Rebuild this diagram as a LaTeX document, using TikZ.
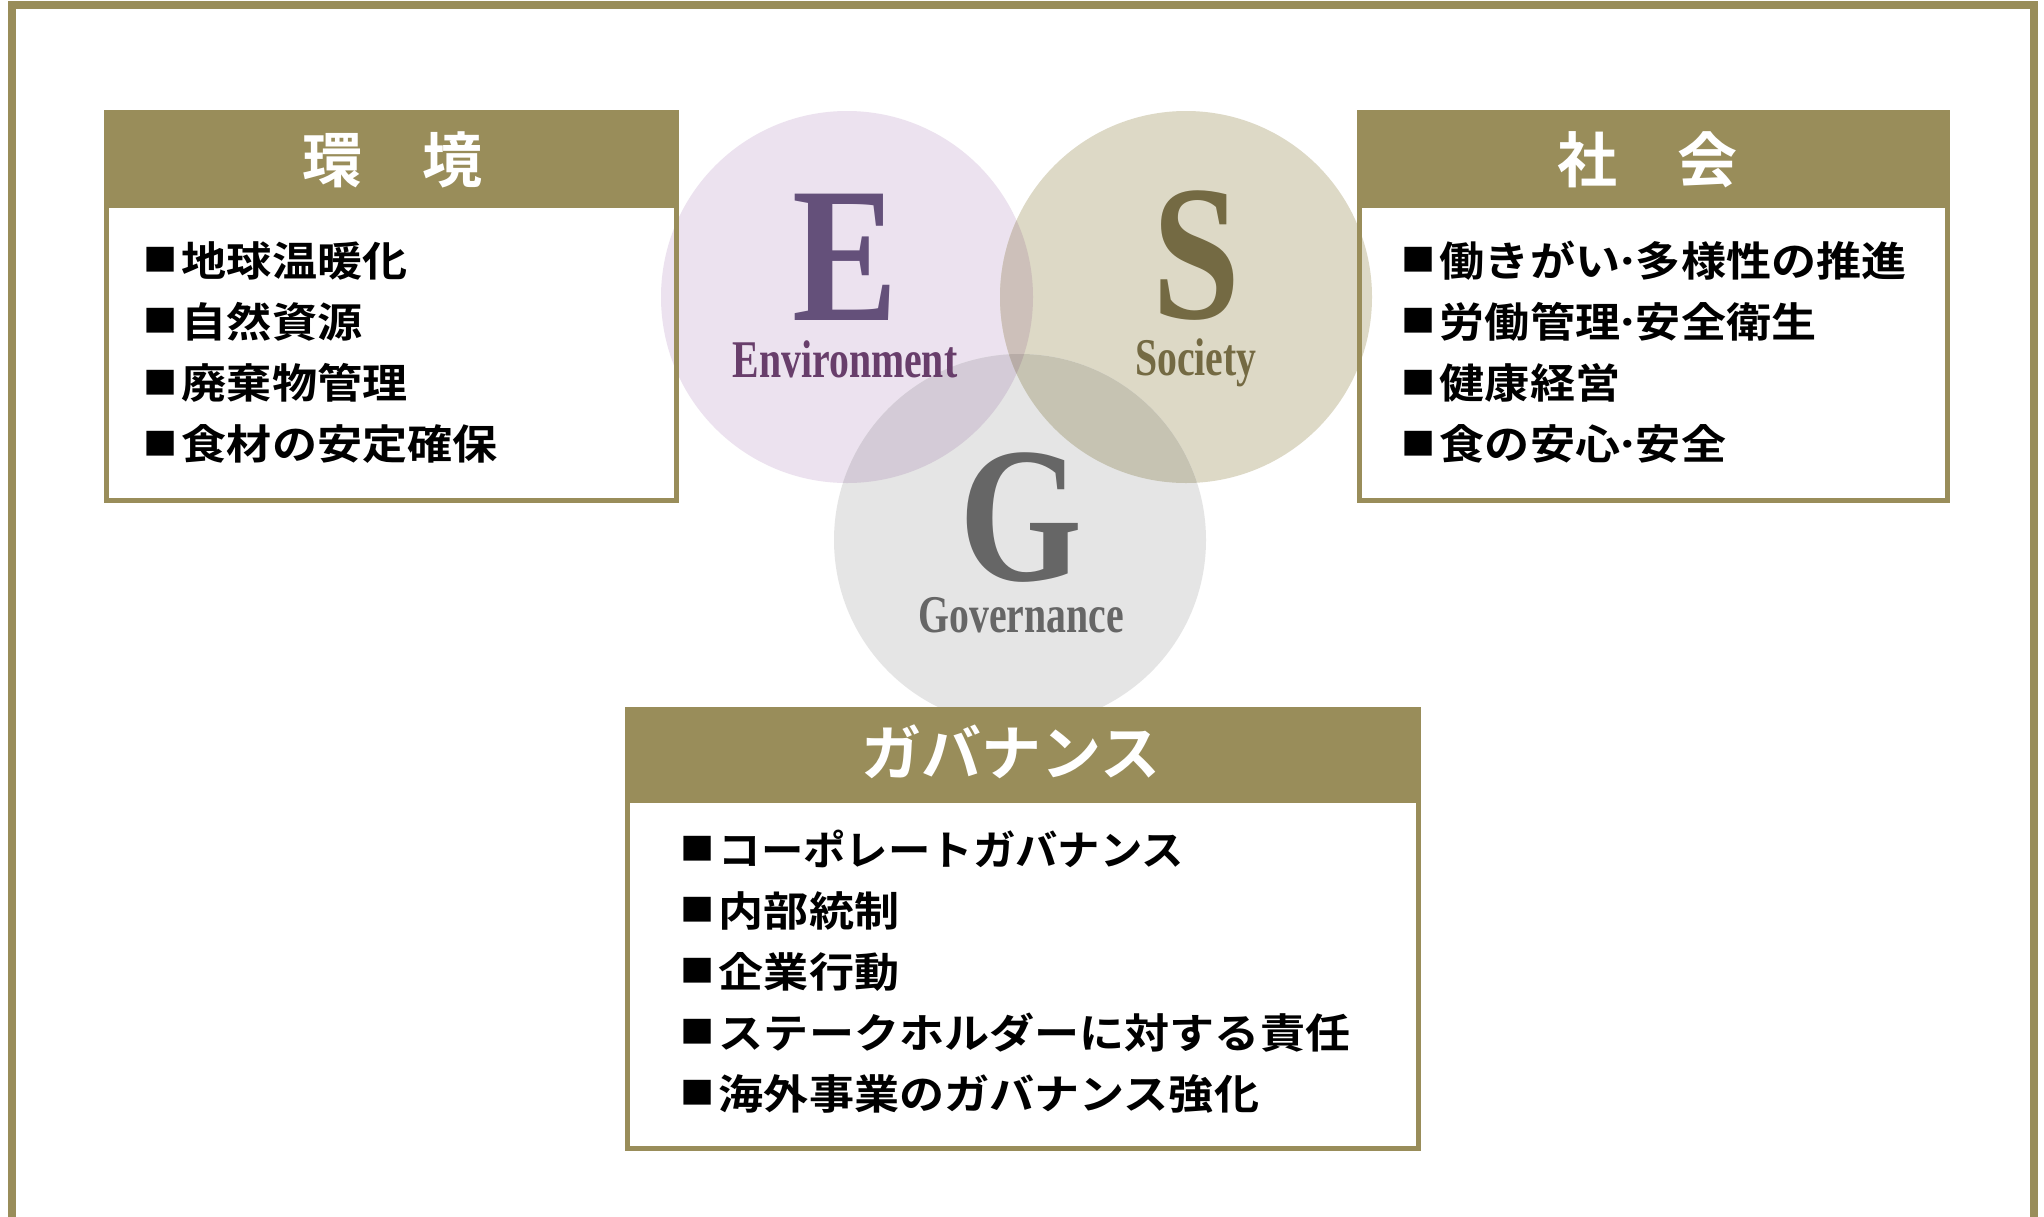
\documentclass[tikz,border=0pt]{standalone}
\usepackage{fontspec}
\newfontfamily\jpfont[FakeStretch=1.1]{Noto Sans CJK JP Bold}
\newfontfamily\jptitle{Noto Sans CJK JP Bold}
\newfontfamily\letterfont[FakeStretch=0.82]{Liberation Serif Bold}
\newfontfamily\wordfont[FakeStretch=0.75]{Liberation Serif Bold}
\newcommand\sqbullet{\raisebox{4.5pt}{\fontsize{31pt}{31pt}\selectfont ■}\kern4.5pt}
\newcommand\mdot{\kern-5.5pt·\kern-5.5pt}
% big letter over a word, #1 = distance between baselines
\newcommand\esglabel[5]{\vbox{\baselineskip=#1\lineskiplimit=-1000pt\lineskip=0pt
  \halign{\hfil##\hfil\cr
  {\color{#2}\letterfont\fontsize{193pt}{193pt}\selectfont #3}\cr
  {\color{#4}\wordfont\fontsize{53pt}{53pt}\selectfont #5}\cr}}}
\definecolor{gold}{RGB}{153,141,90}
\definecolor{Ecol}{RGB}{236,226,239}
\definecolor{Scol}{RGB}{221,217,198}
\definecolor{Gcol}{RGB}{229,229,229}
\definecolor{EScol}{RGB}{205,192,186}
\definecolor{EGcol}{RGB}{212,203,215}
\definecolor{SGcol}{RGB}{198,195,178}
\definecolor{ESGcol}{RGB}{184,172,167}
\definecolor{Eletter}{RGB}{100,80,122}
\definecolor{Eword}{RGB}{104,62,107}
\definecolor{Sletter}{RGB}{116,106,67}
\definecolor{Gletter}{RGB}{102,102,102}
\tikzset{
  frameline/.style={draw=gold, line width=8pt},
  boxbody/.style={rectangle, fill=white, inner sep=0pt, outer sep=0pt},
  boxborder/.style={rectangle, draw=gold, line width=5pt, inner sep=0pt, outer sep=0pt},
  headerbar/.style={rectangle, fill=gold, inner sep=0pt, outer sep=0pt},
  titletext/.style={text=white, inner sep=0pt, font=\jptitle\fontsize{60pt}{60pt}\selectfont},
  itemtext/.style={anchor=base west, inner sep=0pt, text=black, font=\jpfont\fontsize{41pt}{41pt}\selectfont},
  esgtext/.style={anchor=base, inner sep=0pt},
}
\begin{document}
\begin{tikzpicture}[x=1pt,y=-1pt]
\useasboundingbox (0,0) rectangle (2044,1216);
\fill[white] (0,0) rectangle (2044,1216);
% outer frame (open at the bottom)
\draw[frameline] (11.5,1260) -- (11.5,5) -- (2033.5,5) -- (2033.5,1260);

% box bodies
\node[boxbody, minimum width=575pt, minimum height=393pt] (envbody) at (391.5,306.5) {};
\node[boxbody, minimum width=593pt, minimum height=393pt] (socbody) at (1653.5,306.5) {};
\node[boxbody, minimum width=796pt, minimum height=444pt] (govbody) at (1023,929) {};

% circles
\coordinate (Ec) at (847,297);
\coordinate (Sc) at (1186,297);
\coordinate (Gc) at (1020,540);
\fill[Ecol] (Ec) circle[radius=186];
\fill[Scol] (Sc) circle[radius=186];
\fill[Gcol] (Gc) circle[radius=186];
\begin{scope}
  \clip (Ec) circle[radius=186];
  \fill[EScol] (Sc) circle[radius=186];
\end{scope}
\begin{scope}
  \clip (Ec) circle[radius=186];
  \fill[EGcol] (Gc) circle[radius=186];
\end{scope}
\begin{scope}
  \clip (Sc) circle[radius=186];
  \fill[SGcol] (Gc) circle[radius=186];
\end{scope}
\begin{scope}
  \clip (Ec) circle[radius=186];
  \clip (Sc) circle[radius=186];
  \fill[ESGcol] (Gc) circle[radius=186];
\end{scope}

% box borders
\node[boxborder, minimum width=570pt, minimum height=388pt] (envframe) at (391.5,306.5) {};
\node[boxborder, minimum width=588pt, minimum height=388pt] (socframe) at (1653.5,306.5) {};
\node[boxborder, minimum width=791pt, minimum height=439pt] (govframe) at (1023,929) {};

% headers
\node[headerbar, minimum width=575pt, minimum height=98pt] (envhead) at (391.5,159) {};
\node[headerbar, minimum width=593pt, minimum height=98pt] (sochead) at (1653.5,159) {};
\node[headerbar, minimum width=796pt, minimum height=96pt] (govhead) at (1023,755) {};
\node[titletext] (envtitle) at (392,160) {環　境};
\node[titletext] (soctitle) at (1647,160) {社　会};
\node[titletext] (govtitle) at (1011,752) {ガバナンス};

% ESG letters with their words
\node[esgtext] (Elabel) at (845,377) {\esglabel{57pt}{Eletter}{E}{Eword}{Environment}};
\node[esgtext] (Slabel) at (1196,375) {\esglabel{57pt}{Sletter}{S}{Sletter}{Society}};
\node[esgtext] (Glabel) at (1021,632) {\esglabel{52pt}{Gletter}{G}{Gletter}{Governance}};

% environment items
\node[itemtext] (env1) at (143,276) {\sqbullet 地球温暖化};
\node[itemtext] (env2) at (143,337.3) {\sqbullet 自然資源};
\node[itemtext] (env3) at (143,398.6) {\sqbullet 廃棄物管理};
\node[itemtext] (env4) at (143,459.9) {\sqbullet 食材の安定確保};

% society items
\node[itemtext] (soc1) at (1401,276) {\sqbullet 働きがい\mdot 多様性の推進};
\node[itemtext] (soc2) at (1401,337.3) {\sqbullet 労働管理\mdot 安全衛生};
\node[itemtext] (soc3) at (1401,398.6) {\sqbullet 健康経営};
\node[itemtext] (soc4) at (1401,459.9) {\sqbullet 食の安心\mdot 安全};

% governance items
\node[itemtext] (gov1) at (680,865) {\sqbullet\scalebox{0.94}[1]{コーポレートガバナンス}};
\node[itemtext] (gov2) at (680,926) {\sqbullet 内部統制};
\node[itemtext] (gov3) at (680,987) {\sqbullet 企業行動};
\node[itemtext] (gov4) at (680,1048) {\sqbullet ステークホルダーに対する責任};
\node[itemtext] (gov5) at (680,1109) {\sqbullet 海外事業のガバナンス強化};
\end{tikzpicture}
\end{document}
